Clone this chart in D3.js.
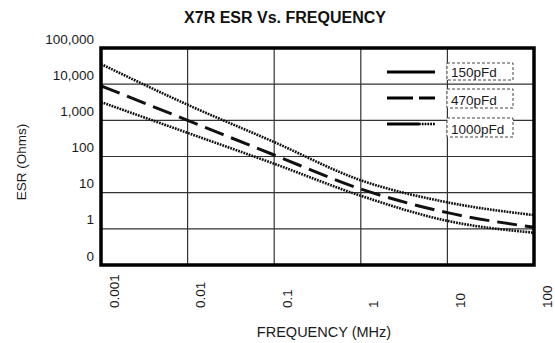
<!DOCTYPE html>
<html><head><meta charset="utf-8">
<script src="https://cdn.jsdelivr.net/npm/d3@7"></script>
<style>
html,body{margin:0;padding:0;background:#fff;}
svg{display:block;font-family:"Liberation Sans",Arial,sans-serif;}
</style></head>
<body>
<svg id="chart" width="555" height="343"></svg>
<script>
// ---- data ----
const freqs = [0.001, 0.01, 0.1, 1, 10, 100];
const xTickLabels = ["0.001", "0.01", "0.1", "1", "10", "100"];
const yTicks = [0.1, 1, 10, 100, 1000, 10000, 100000];
const yTickLabels = ["0", "1", "10", "100", "1,000", "10,000", "100,000"];
const esr150  = [36000, 2700, 250, 22, 5.4, 2.4];
const esr470  = [9000, 1000, 110, 12.6, 2.8, 1.1];
const esr1000 = [3200, 450, 63, 8.2, 1.66, 0.78];
const seriesNames = ["150pFd", "470pFd", "1000pFd"];

const svg = d3.select("#chart");
const L = 101, R = 534, T = 48, B = 265;
const x = d3.scaleLog().domain([0.001, 100]).range([L, R]);
const y = d3.scaleLog().domain([0.1, 100000]).range([B, T]);

// title
svg.append("text").attr("x", 285).attr("y", 23).attr("text-anchor", "middle")
  .style("font-size", "16px").style("font-weight", "bold").attr("fill", "#111").text("X7R ESR Vs. FREQUENCY");

// gridlines
const grid = svg.append("g").attr("stroke", "#333").attr("stroke-width", 1.2);
grid.selectAll(".vg").data(freqs.slice(1, -1)).join("line")
  .attr("x1", d => x(d)).attr("x2", d => x(d)).attr("y1", T).attr("y2", B);
grid.selectAll(".hg").data(yTicks.slice(1, -1)).join("line")
  .attr("y1", d => y(d)).attr("y2", d => y(d)).attr("x1", L).attr("x2", R);

// y axis
const ya = svg.append("g").attr("transform", `translate(${L},0)`)
  .call(d3.axisLeft(y).tickValues(yTicks).tickFormat((d, i) => yTickLabels[i]).tickSize(0).tickPadding(7));
ya.select(".domain").remove();
ya.selectAll("text").attr("dy", "-0.36em").style("font-size", "13.5px").style("font-family", "Liberation Sans, Arial, sans-serif").attr("fill", "#1a1a1a");

// x axis
const xa = svg.append("g").attr("transform", `translate(0,${B})`)
  .call(d3.axisBottom(x).tickValues(freqs).tickFormat((d, i) => xTickLabels[i]).tickSize(0));
xa.select(".domain").remove();
xa.selectAll("text").attr("x", 0).attr("y", 0).attr("dy", null)
  .attr("text-anchor", "start").attr("transform", "translate(17,43) rotate(-90)")
  .style("font-size", "13.5px").style("font-family", "Liberation Sans, Arial, sans-serif").attr("fill", "#1a1a1a");

// axis titles
svg.append("text").attr("x", 324).attr("y", 337).attr("text-anchor", "middle")
  .style("font-size", "14.5px").attr("fill", "#1a1a1a").text("FREQUENCY (MHz)");
svg.append("text").attr("transform", "translate(26,162) rotate(-90)").attr("text-anchor", "middle")
  .style("font-size", "13.5px").attr("fill", "#1a1a1a").text("ESR (Ohms)");

// curves
const line = d3.line().x(d => x(d[0])).y(d => y(d[1])).curve(d3.curveMonotoneX);
const curves = [
  {vals: esr150, dash: "1.8 1", w: 2.6},
  {vals: esr470, dash: "20 8", w: 3},
  {vals: esr1000, dash: "1.8 1", w: 2.6}
];
svg.append("g").selectAll("path").data(curves).join("path")
  .attr("d", c => line(freqs.map((f, i) => [f, c.vals[i]])))
  .attr("fill", "none").attr("stroke", "#111")
  .attr("stroke-width", c => c.w).attr("stroke-dasharray", c => c.dash);

// legend
const leg = svg.append("g");
const legY = [72, 98, 124];
const boxY = [63, 89, 118];
const boxH = [17, 19, 19];
leg.append("line").attr("x1", 387).attr("x2", 435).attr("y1", legY[0]).attr("y2", legY[0])
  .attr("stroke", "#000").attr("stroke-width", 3);
leg.append("line").attr("x1", 387).attr("x2", 435).attr("y1", legY[1]).attr("y2", legY[1])
  .attr("stroke", "#000").attr("stroke-width", 3).attr("stroke-dasharray", "26 6");
leg.append("line").attr("x1", 387).attr("x2", 419).attr("y1", legY[2]).attr("y2", legY[2])
  .attr("stroke", "#000").attr("stroke-width", 3);
leg.append("line").attr("x1", 419).attr("x2", 435).attr("y1", legY[2]).attr("y2", legY[2])
  .attr("stroke", "#000").attr("stroke-width", 2.6).attr("stroke-dasharray", "1.8 1");
seriesNames.forEach((n, i) => {
  leg.append("rect").attr("x", 447).attr("y", boxY[i]).attr("width", 66).attr("height", boxH[i])
    .attr("fill", "#fff").attr("stroke", "#444").attr("stroke-width", 1).attr("stroke-dasharray", "3 2");
  leg.append("text").attr("x", 451).attr("y", boxY[i] + boxH[i] - 3.5)
    .style("font-size", "13.5px").attr("fill", "#1a1a1a").text(n);
});

// plot border
svg.append("rect").attr("x", L).attr("y", T).attr("width", R - L).attr("height", B - T)
  .attr("fill", "none").attr("stroke", "#000").attr("stroke-width", 3.5);
</script>
</body></html>
